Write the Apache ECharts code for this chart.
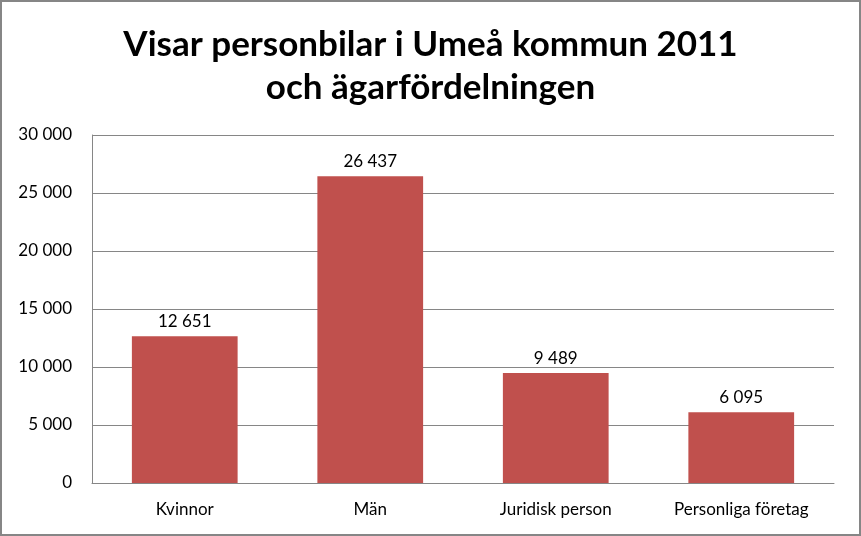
<!DOCTYPE html>
<html>
<head>
<meta charset="utf-8">
<script src="https://cdn.jsdelivr.net/npm/echarts@6/dist/echarts.min.js"></script>
<style>
html, body { margin: 0; padding: 0; background: #fff; }
#chart { width: 861px; height: 536px; box-sizing: border-box; border: 2px solid #868686; }
</style>
</head>
<body>
<div id="chart"></div>
<script>
const categories = ['Kvinnor', 'Män', 'Juridisk person', 'Personliga företag'];
const values = [12651, 26437, 9489, 6095];
const yTicks = [0, 5000, 10000, 15000, 20000, 25000, 30000];

const fmt = v => String(v).replace(/\B(?=(\d{3})+(?!\d))/g, ' ');

const myChart = echarts.init(document.getElementById('chart'));
const option = {
  backgroundColor: '#fff',
  animation: false,
  title: {
    text: 'Visar personbilar i Umeå kommun 2011\noch ägarfördelningen',
    left: 'center',
    top: 16,
    textStyle: {
      fontFamily: 'Lato',
      fontWeight: 'bold',
      fontSize: 35,
      lineHeight: 43,
      color: '#000'
    }
  },
  grid: { left: 90, right: 25, top: 133, bottom: 51 },
  xAxis: {
    type: 'category',
    data: categories,
    axisLine: { lineStyle: { color: '#868686' } },
    axisTick: { show: false },
    axisLabel: { color: '#000', fontFamily: 'Lato', fontSize: 17, margin: 18 }
  },
  yAxis: {
    type: 'value',
    min: yTicks[0],
    max: yTicks[yTicks.length - 1],
    interval: 5000,
    axisLine: { show: true, lineStyle: { color: '#868686' } },
    axisTick: { show: false },
    splitLine: { lineStyle: { color: '#868686' } },
    axisLabel: { color: '#000', fontFamily: 'Lato', fontSize: 17, margin: 20, formatter: fmt }
  },
  series: [{
    type: 'bar',
    data: values,
    barWidth: '57%',
    itemStyle: { color: '#C0504D' },
    label: {
      show: true,
      position: 'top',
      distance: 6,
      color: '#000',
      fontFamily: 'Lato',
      fontSize: 17,
      formatter: p => fmt(p.value)
    }
  }]
};
myChart.setOption(option);
</script>
</body>
</html>
